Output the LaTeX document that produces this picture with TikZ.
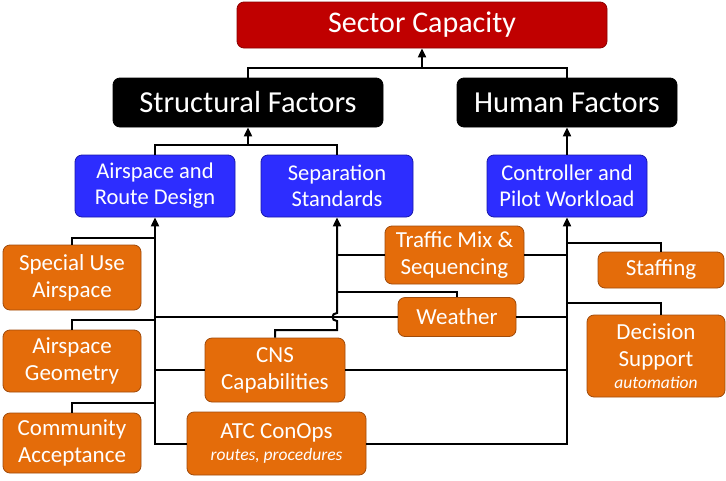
\documentclass[tikz,border=0pt]{standalone}
\usepackage{fontspec}
\setmainfont{Carlito}
\usepackage{xcolor}
\definecolor{capred}{RGB}{192,0,0}
\definecolor{capredline}{RGB}{140,0,0}
\definecolor{factblue}{RGB}{45,45,255}
\definecolor{factblueline}{RGB}{25,25,170}
\definecolor{infoorange}{RGB}{228,108,10}
\definecolor{infoorangeline}{RGB}{160,75,10}
\usepackage{tikz}
\usetikzlibrary{arrows.meta}

\begin{document}
\begin{tikzpicture}[x=1pt, y=-1pt, >={Triangle[length=9pt,width=8pt]},
    box/.style={rounded corners=7pt, align=center, inner sep=0pt, text=white, line width=0.8pt},
    redbox/.style={box, fill=capred, draw=capredline, font=\fontsize{30}{34}\selectfont},
    blackbox/.style={box, fill=black, draw=black, font=\fontsize{30.5}{34}\selectfont},
    bluebox/.style={box, fill=factblue, draw=factblueline, font=\fontsize{22.5}{26}\selectfont},
    orangebox/.style={box, fill=infoorange, draw=infoorangeline, font=\fontsize{23}{27}\selectfont},
    link/.style={line width=2pt, black}]
    \useasboundingbox (0,0) rectangle (726,480);

    % Top levels
    \node[redbox, minimum width=370pt, minimum height=46pt] (sector) at (422,25) {Sector Capacity};
    \node[blackbox, minimum width=270pt, minimum height=49pt] (structural) at (248,102.5) {Structural Factors};
    \node[blackbox, minimum width=220pt, minimum height=49pt] (human) at (567,102.5) {Human Factors};

    % Middle level
    \node[bluebox, minimum width=160pt, minimum height=62pt] (airroute) at (155,186) {Airspace and\\Route Design};
    \node[bluebox, minimum width=152pt, minimum height=62pt] (separation) at (337,186) {Separation\\Standards};
    \node[bluebox, minimum width=160pt, minimum height=62pt] (workload) at (567,186) {Controller and\\Pilot Workload};

    % Influences
    \node[orangebox, minimum width=138pt, minimum height=65pt] (specialuse) at (72,277.5) {Special Use\\Airspace};
    \node[orangebox, minimum width=138pt, minimum height=62pt] (geometry) at (72,361) {Airspace\\Geometry};
    \node[orangebox, minimum width=138pt, minimum height=60pt] (community) at (72,443) {Community\\Acceptance};
    \node[orangebox, minimum width=140pt, minimum height=64pt] (cns) at (275,370) {CNS\\Capabilities};
    \node[orangebox, minimum width=179pt, minimum height=63pt] (atc) at (276.5,443.5)
        {ATC ConOps\\[-5pt]{\fontsize{17.5}{20}\selectfont\itshape routes, procedures}};
    \node[orangebox, minimum width=139pt, minimum height=58pt] (traffic) at (454.5,255) {Traffic Mix \&\\Sequencing};
    \node[orangebox, minimum width=118pt, minimum height=39pt] (weather) at (457,317) {Weather};
    \node[orangebox, minimum width=126pt, minimum height=36pt] (staffing) at (661,270) {Staffing};
    \node[orangebox, minimum width=138pt, minimum height=82pt] (decision) at (656,356)
        {Decision\\Support\\[-5pt]{\fontsize{17.5}{20}\selectfont\itshape automation}};

    % Links to top
    \coordinate (topbar) at (0,68);
    \draw[link] (structural.north) |- (sector.south |- topbar) -| (human.north);
    \draw[link,->] (sector.south |- topbar) -- (sector.south);
    \coordinate (midbar) at (0,145);
    \draw[link] (airroute.north) |- (structural.south |- midbar) -| (separation.north);
    \draw[link,->] (structural.south |- midbar) -- (structural.south);
    \draw[link,->] (workload.north) -- (human.south);

    % Left bus
    \draw[link,->] (atc.west) -| (airroute.south);
    \draw[link] (specialuse.north) |- (airroute.south |- 0,238);
    \draw[link] (geometry.north) |- (airroute.south |- 0,320);
    \draw[link] (community.north) |- (airroute.south |- 0,403);
    \draw[link] (cns.west) -- (cns.west -| airroute.south);
    \draw[link] (weather.west) -- (weather.west -| airroute.south);

    % Middle bus
    \draw[link,->] (cns.north) |- (separation.south |- 0,330) -- (separation.south |- 0,321)
        .. controls (331,321) and (331,313) .. (separation.south |- 0,313) -- (separation.south);
    \draw[link] (traffic.west) -- (traffic.west -| separation.south);
    \draw[link] (weather.north) |- (separation.south |- 0,292);

    % Right bus
    \draw[link,->] (atc.east) -| (workload.south);
    \draw[link] (traffic.east) -- (traffic.east -| workload.south);
    \draw[link] (weather.east) -- (weather.east -| workload.south);
    \draw[link] (cns.east) -- (cns.east -| workload.south);
    \draw[link] (staffing.north) |- (workload.south |- 0,243);
    \draw[link] (decision.north -| staffing.north) |- (workload.south |- 0,303);
\end{tikzpicture}
\end{document}
